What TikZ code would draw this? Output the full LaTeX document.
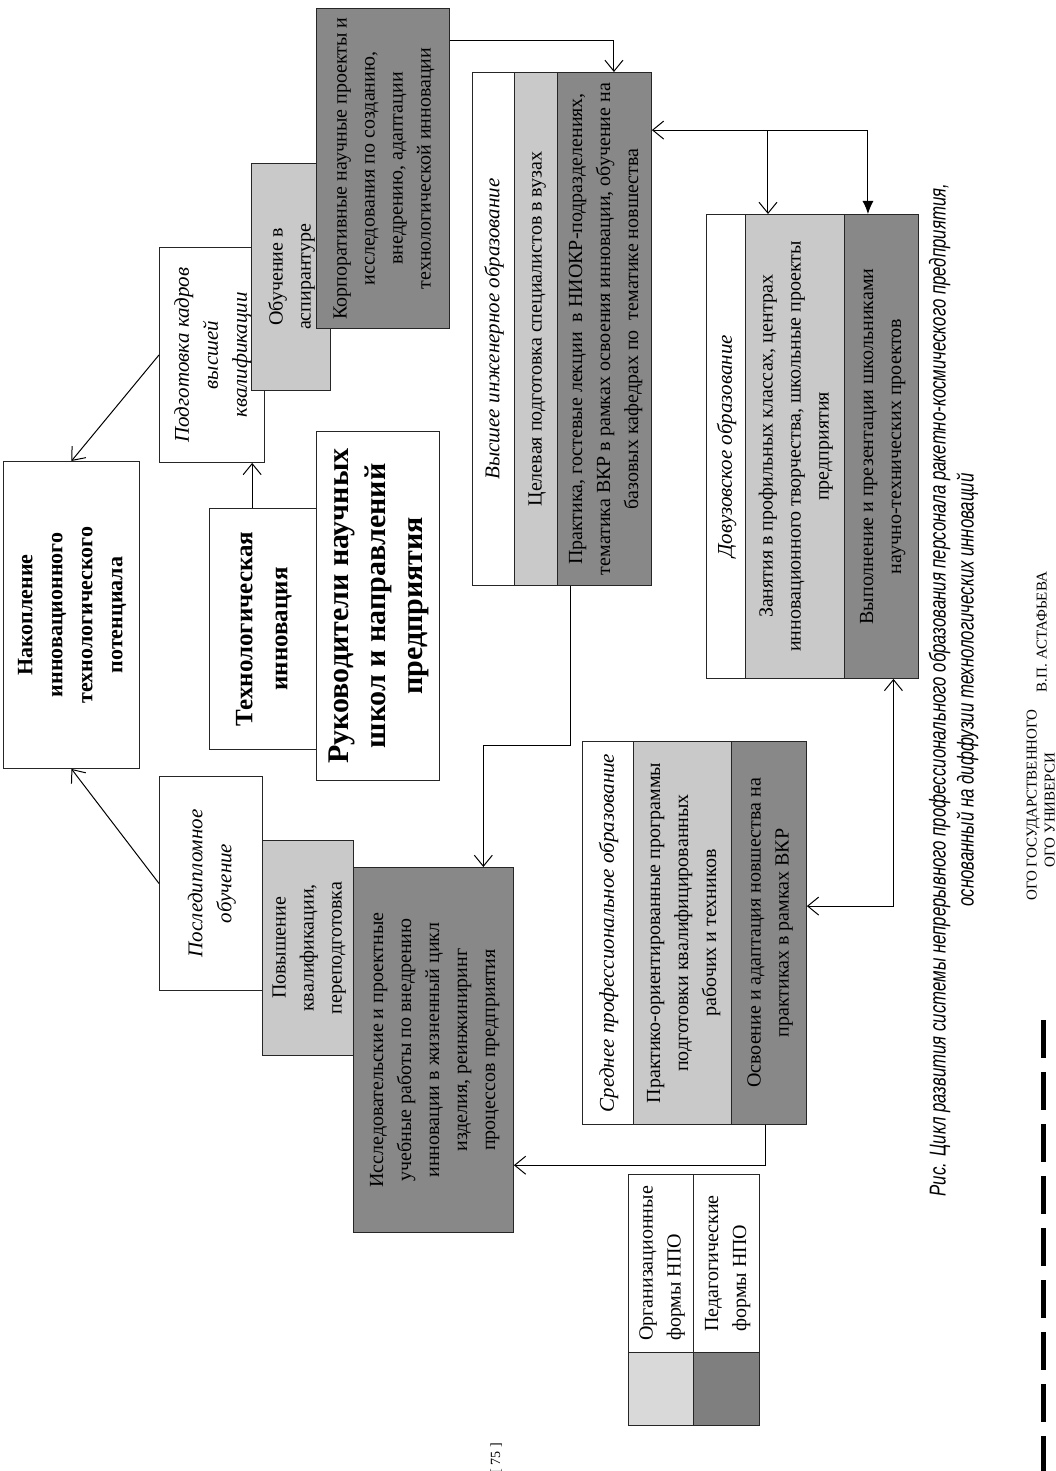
\documentclass[tikz,border=0pt]{standalone}
\usepackage{fontspec}
\usepackage{graphicx}
\setmainfont{Liberation Serif}
\newfontfamily\capfont[FakeStretch=0.73]{Liberation Sans}
\usetikzlibrary{arrows.meta,calc}

\definecolor{lightband}{HTML}{C9C9C9}
\definecolor{darkband}{HTML}{888888}
\definecolor{legendlight}{HTML}{D9D9D9}
\definecolor{legenddark}{HTML}{7F7F7F}

% rotated multi-line text, reads bottom to top
\newcommand\vt[2][c]{\rotatebox{90}{\begin{tabular}{@{}#1@{}}#2\end{tabular}}}

\tikzset{
  cell/.style={draw=black!85, line width=0.9pt, anchor=north west, inner sep=0pt,
    font=\fontsize{20}{28}\selectfont},
  sz/.style 2 args={minimum width=#1, minimum height=#2},
  whitecell/.style={cell, fill=white},
  orgcell/.style={cell, fill=lightband},
  pedcell/.style={cell, fill=darkband},
  head/.style={font=\fontsize{21}{29}\selectfont\itshape},
  arr/.style={-{Straight Barb[length=11pt,width=18pt]}, line width=1pt},
  arrtwo/.style={{Straight Barb[length=11pt,width=18pt]}-{Straight Barb[length=11pt,width=18pt]}, line width=1pt},
}

\begin{document}
\begin{tikzpicture}[x=1pt, y=-1pt]
  \useasboundingbox (0,0) rectangle (1055,1471);

  % central boxes
  \node[whitecell, sz={136pt}{307pt}, font=\fontsize{22}{30}\selectfont\bfseries] (accum) at (3,461)
    {\vt{Накопление\\инновационного\\технологического\\потенциала}};
  \node[whitecell, sz={107pt}{241pt}, font=\fontsize{25}{35}\selectfont\bfseries] (techinn) at (209,508)
    {\vt{Технологическая\\инновация}};
  \node[whitecell, sz={123pt}{349pt}, font=\fontsize{30}{37}\selectfont\bfseries] (leaders) at (316,431)
    {\vt{Руководители научных\\школ и направлений\\предприятия}};

  % higher qualification
  \node[whitecell, sz={105pt}{215pt}, head] (hq) at (159,247)
    {\vt{Подготовка кадров\\высшей\\квалификации}};
  \node[orgcell, sz={79pt}{227pt}] (hqasp) at (251,163)
    {\vt{Обучение в\\аспирантуре}};
  \node[pedcell, sz={133pt}{320pt}] (hqcorp) at (316,8)
    {\vt{Корпоративные научные проекты и\\исследования по созданию,\\внедрению, адаптации\\технологической инновации}};

  % postgraduate
  \node[whitecell, sz={103pt}{214pt}, head] (pg) at (159,776)
    {\vt{Последипломное\\обучение}};
  \node[orgcell, sz={91pt}{215pt}] (pgqual) at (262,840)
    {\vt{Повышение\\квалификации,\\переподготовка}};
  \node[pedcell, sz={160pt}{365pt}] (pgres) at (353,867)
    {\vt{Исследовательские и проектные\\учебные работы по внедрению\\инновации в жизненный цикл\\изделия, реинжиниринг\\процессов предприятия}};

  % higher engineering education
  \node[whitecell, sz={42pt}{513pt}, head] (he) at (472,72)
    {\vt{Высшее инженерное образование}};
  \node[orgcell, sz={43pt}{513pt}] (heorg) at (514,72)
    {\vt{Целевая подготовка специалистов в вузах}};
  \node[pedcell, sz={94pt}{513pt}] (heped) at (557,72)
    {\vt{Практика, гостевые лекции\ \ в НИОКР-подразделениях,\\тематика ВКР в рамках освоения инновации, обучение на\\базовых кафедрах по\ \ тематике новшества}};

  % pre-university
  \node[whitecell, sz={39pt}{464pt}, head] (pre) at (706,214)
    {\vt{Довузовское образование}};
  \node[orgcell, sz={99pt}{464pt}] (preorg) at (745,214)
    {\vt{Занятия в профильных классах, центрах\\инновационного творчества, школьные проекты\\предприятия}};
  \node[pedcell, sz={74pt}{464pt}] (preped) at (844,214)
    {\vt{Выполнение и презентации школьниками\\научно-технических проектов}};

  % vocational
  \node[whitecell, sz={51pt}{383pt}, head] (voc) at (582,741)
    {\vt{Среднее профессиональное образование}};
  \node[orgcell, sz={98pt}{383pt}] (vocorg) at (633,741)
    {\vt{Практико-ориентированные программы\\подготовки квалифицированных\\рабочих и техников}};
  \node[pedcell, sz={75pt}{383pt}] (vocped) at (731,741)
    {\vt{Освоение и адаптация новшества на\\практиках в рамках ВКР}};

  % legend
  \node[whitecell, sz={65pt}{178pt}] (legorg) at (628,1174) {\vt[l]{Организационные\\формы НПО}};
  \node[whitecell, sz={66pt}{178pt}] (legped) at (693,1174) {\vt[l]{Педагогические\\формы НПО}};
  \node[cell, fill=legendlight, sz={65pt}{73pt}] (legorgc) at (628,1352) {};
  \node[cell, fill=legenddark, sz={66pt}{73pt}] (legpedc) at (693,1352) {};

  % connectors
  \draw[arr] (hq.west) -- (accum.north);
  \draw[arr] (pg.west) -- (accum.south);
  \coordinate (t1) at ($(techinn.north west)!0.4!(techinn.north east)$);
  \draw[arr] (t1) -- (t1 |- hq.south);
  \draw[arr] ($(hqcorp.north east)!0.1!(hqcorp.south east)$)
    -| ($(heped.north west)!0.6!(heped.north east)$);
  \draw[arr] ($(heped.south west)!0.14!(heped.south east)$) -- ++(0,160)
    -| ($(pgres.north west)!0.81!(pgres.north east)$);
  \draw[arr] ($(vocped.south west)!0.45!(vocped.south east)$)
    |- ($(pgres.north east)!0.815!(pgres.south east)$);
  \draw[arrtwo] ($(preped.south west)!0.66!(preped.south east)$)
    |- ($(vocped.north east)!0.43!(vocped.south east)$);
  \coordinate (h1) at ($(heped.north east)!0.113!(heped.south east)$);
  \coordinate (p1) at ($(preorg.north west)!0.23!(preorg.north east)$);
  \coordinate (p2) at ($(preped.north west)!0.32!(preped.north east)$);
  \draw[{Straight Barb[length=11pt,width=18pt]}-{Latex[length=13pt,width=11pt]}, line width=1pt]
    (h1) -| (p2);
  \draw[arr] (p1 |- h1) -- (p1);

  % caption and page
  \node[font=\capfont\itshape\fontsize{23}{28}\selectfont] (cap) at (954,690)
    {\vt{Рис. Цикл развития системы непрерывного профессионального образования персонала ракетно-космического предприятия,\\основанный на диффузии технологических инноваций}};
  \node[font=\fontsize{14}{16}\selectfont] (pagenum) at (497,1458) {\vt{[ 75 ]}};

  % masthead of the page
  \node[font=\fontsize{15}{18}\selectfont] (mast1) at (1033,805) {\vt{ОГО ГОСУДАРСТВЕННОГО}};
  \node[font=\fontsize{15}{18}\selectfont] (mast2) at (1051,810) {\vt{ОГО УНИВЕРСИ}};
  \node[font=\fontsize{15}{18}\selectfont] (mast3) at (1043,632) {\vt{В.П. АСТАФЬЕВА}};
  \draw[line width=5pt, dash pattern=on 38pt off 14pt] (1043,1020) -- (1043,1471);
\end{tikzpicture}
\end{document}
